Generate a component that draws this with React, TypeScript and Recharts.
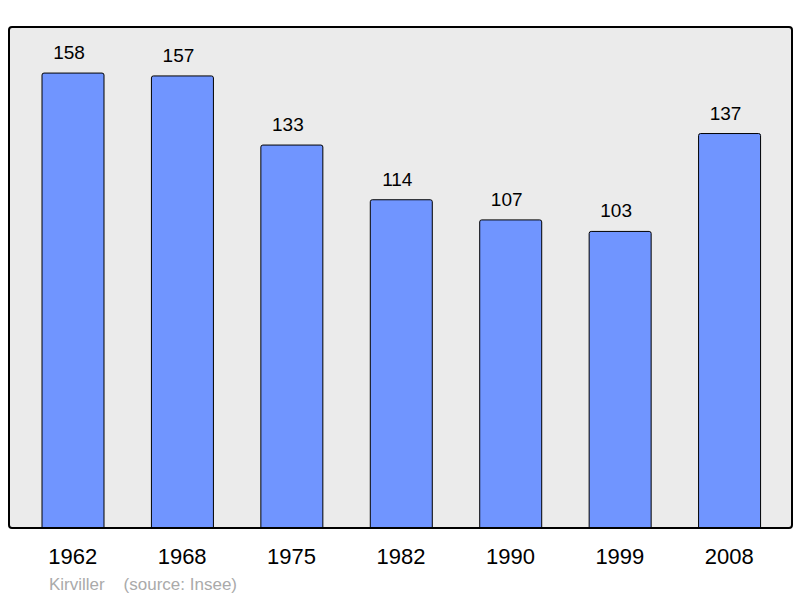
import { BarChart, Bar, XAxis, YAxis, LabelList, CartesianGrid } from "recharts";

const years = ["1962", "1968", "1975", "1982", "1990", "1999", "2008"];
const population = [158, 157, 133, 114, 107, 103, 137];

const data = years.map((year, i) => ({ year, population: population[i] }));

export default function App() {
  return (
    <div style={{ position: "absolute", left: 0, top: 0, width: 800, height: 598, fontFamily: "'Liberation Sans', Arial, sans-serif" }}>
      <BarChart
        width={800}
        height={598}
        data={data}
        margin={{ top: 27, right: 8, left: 9, bottom: 30 }}
      >
        <CartesianGrid horizontal={false} vertical={false} fill="#ebebeb" fillOpacity={1} />
        <XAxis
          dataKey="year"
          height={40}
          axisLine={false}
          tickLine={false}
          tickSize={0}
          tickMargin={20}
          padding={{ left: 9, right: 8 }}
          tick={{ fill: "#000", fontSize: 22 }}
        />
        <YAxis hide domain={[0, 174]} />
        <Bar
          dataKey="population"
          fill="#7095ff"
          stroke="#000"
          strokeWidth={1}
          barSize={62}
          radius={[2, 2, 0, 0]}
          isAnimationActive={false}
        >
          <LabelList dataKey="population" position="top" offset={14} dx={-4} fill="#000" fontSize={19} />
        </Bar>
      </BarChart>
      {/* plot frame */}
      <div
        style={{
          position: "absolute",
          left: 8,
          top: 26,
          width: 785,
          height: 503,
          boxSizing: "border-box",
          border: "2px solid #000",
          borderRadius: 4,
          pointerEvents: "none",
        }}
      />
      <div style={{ position: "absolute", left: 49, top: 575, fontSize: 17, color: "#aaaaaa", whiteSpace: "pre" }}>
        {"Kirviller    (source: Insee)"}
      </div>
    </div>
  );
}
